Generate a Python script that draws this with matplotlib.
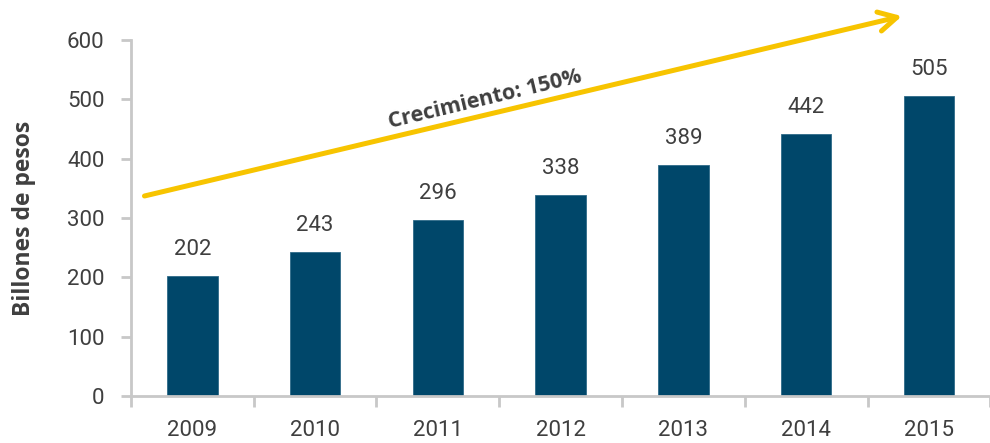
import numpy as np
import matplotlib
matplotlib.use("Agg")
from matplotlib import pyplot as plt

years = ['2009', '2010', '2011', '2012', '2013', '2014', '2015']
values = [202, 243, 296, 338, 389, 442, 505]
yticks = [0, 100, 200, 300, 400, 500, 600]

BAR = '#00476A'
TXT = '#3F3F3F'
AXC = '#C8C8C8'
YEL = '#F7C400'

plt.rcParams['font.family'] = ['Roboto', 'DejaVu Sans']

fig = plt.figure(figsize=(9.9, 4.43), dpi=100)
ax = fig.add_axes([0.1323, 0.106, 0.868, 0.804])

x = np.arange(len(years))
ax.bar(x, values, width=0.41, color=BAR, edgecolor='#2E6A88', linewidth=0.6, zorder=2)
for xi, v in zip(x, values):
    ax.text(xi, v + 27, str(v), ha='center', va='bottom', fontsize=16, color=TXT)

ax.set_xlim(-0.5, 6.5)
ax.set_ylim(0, 600)
ax.set_yticks(yticks)
ax.set_xticks(x)
ax.set_xticklabels(years)
ax.set_xticks(np.arange(-0.5, 7, 1), minor=True)

for s in ['top', 'right']:
    ax.spines[s].set_visible(False)
for s in ['left', 'bottom']:
    ax.spines[s].set_color(AXC)
    ax.spines[s].set_linewidth(2)

ax.tick_params(axis='y', length=7, width=2, color=AXC, labelsize=16, labelcolor=TXT, pad=12)
ax.tick_params(axis='x', which='major', length=0, labelsize=16, labelcolor=TXT, pad=17)
ax.tick_params(axis='x', which='minor', length=8, width=2, color=AXC)

ax.set_ylabel('Billones de pesos', fontsize=16.5, fontweight='bold', color=TXT,
              family=['Open Sans', 'DejaVu Sans'], labelpad=22)

# growth arrow
ax.annotate('', xy=(5.78, 640), xytext=(-0.39, 337), xycoords='data',
            annotation_clip=False,
            arrowprops=dict(arrowstyle='->,head_length=1.3,head_width=0.7',
                            color=YEL, lw=3.6, shrinkA=0, shrinkB=0))
ax.text(2.385, 499, 'Crecimiento: 150%', rotation=13.5, ha='center', va='center',
        fontsize=15.5, fontweight='bold', color=TXT,
        family=['Open Sans', 'DejaVu Sans'], rotation_mode='anchor')

fig.savefig('out.png', dpi=100)
